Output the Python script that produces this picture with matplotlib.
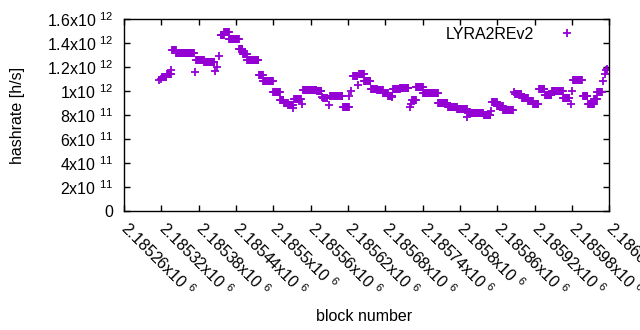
import numpy as np
import matplotlib
matplotlib.use('Agg')
import matplotlib.pyplot as plt

plt.rcParams['font.family'] = ['Liberation Sans', 'DejaVu Sans']
plt.rcParams['mathtext.fontset'] = 'custom'
plt.rcParams['mathtext.rm'] = 'Liberation Sans'
plt.rcParams['mathtext.default'] = 'regular'
plt.rcParams['font.size'] = 11.5

# hashrate runs: first block, number of blocks, hashrate (x10^11 h/s)
run_start = [2185316, 2185319, 2185321, 2185329, 2185336, 2185337, 2185344, 2185374,
             2185376, 2185389, 2185406, 2185410, 2185413, 2185415, 2185416, 2185421,
             2185429, 2185445, 2185451, 2185458, 2185477, 2185484, 2185500, 2185511,
             2185517, 2185524, 2185532, 2185533, 2185545, 2185546, 2185548, 2185570,
             2185578, 2185580, 2185589, 2185591, 2185612, 2185622, 2185625, 2185628,
             2185636, 2185638, 2185646, 2185657, 2185667, 2185677, 2185685, 2185691,
             2185693, 2185704, 2185720, 2185721, 2185723, 2185730, 2185741, 2185765,
             2185781, 2185796, 2185812, 2185813, 2185839, 2185850, 2185852, 2185860,
             2185870, 2185887, 2185889, 2185900, 2185910, 2185918, 2185927, 2185937,
             2185948, 2185966, 2185979, 2185980, 2185982, 2185998, 2186006, 2186016,
             2186021, 2186030, 2186033, 2186035, 2186037]
run_len = [1, 1, 8, 7, 1, 7, 29, 1,
           13, 17, 1, 1, 1, 1, 5, 8,
           16, 6, 7, 19, 7, 16, 11, 6,
           7, 8, 1, 10, 1, 1, 22, 8,
           1, 8, 1, 21, 10, 1, 1, 8,
           1, 8, 11, 10, 10, 8, 6, 1,
           11, 14, 1, 1, 7, 11, 24, 16,
           15, 16, 1, 25, 11, 1, 8, 10,
           16, 1, 11, 10, 8, 9, 10, 11,
           18, 11, 1, 1, 15, 8, 10, 5,
           8, 1, 1, 1, 1]
run_rate = [10.9, 11.0, 11.2, 11.4, 11.75, 13.4, 13.15, 11.6,
            12.6, 12.4, 11.7, 12.0, 12.9, 14.7, 14.7, 14.95,
            14.3, 13.5, 13.05, 12.55, 11.3, 10.8, 9.95, 9.25,
            9.0, 8.8, 8.55, 9.35, 9.3, 8.9, 10.1, 10.0,
            9.5, 9.4, 8.8, 9.6, 8.65, 9.6, 10.0, 11.25,
            10.5, 11.45, 10.85, 10.2, 10.05, 9.85, 9.55, 9.5,
            10.15, 10.25, 8.65, 8.9, 9.25, 10.3, 9.85, 9.0,
            8.7, 8.5, 7.8, 8.2, 8.0, 8.3, 9.05, 8.75,
            8.4, 9.9, 9.75, 9.4, 9.15, 8.9, 10.2, 9.65,
            10.0, 9.4, 8.9, 10.0, 10.95, 9.6, 8.9, 9.3,
            9.9, 10.8, 11.4, 11.75, 11.8]

x_ticks = np.arange(2185260, 2186041, 60)
y_ticks = np.arange(0, 1.61e12, 2e11)

blocks = np.concatenate([np.arange(s, s + n) for s, n in zip(run_start, run_len)])
rates = np.repeat(run_rate, run_len) * 1e11


def sci(v):
    if v == 0:
        return '0'
    e = int(np.floor(np.log10(v) + 1e-9))
    m = v / 10**e
    return f'{m:g}x10 $^{{{e}}}$'


fig = plt.figure(figsize=(6.4, 3.3), dpi=100)
ax = fig.add_axes([0.194, 0.3606, 0.7578, 0.5818])

ax.plot(blocks, rates, '+', color='#9400d3', ms=6, mew=1.3, label='LYRA2REv2')

ax.set_xlim(2185260, 2186040)
ax.set_ylim(0, 1.6e12)
ax.set_xticks(x_ticks)
ax.set_xticklabels([sci(v) for v in x_ticks], rotation=-45, ha='left', va='center',
                   rotation_mode='anchor')
ax.set_yticks(y_ticks)
ax.set_yticklabels([sci(v) for v in y_ticks])
ax.tick_params(direction='in', top=True, right=True, length=4, width=1)
ax.tick_params(axis='y', pad=8)
ax.tick_params(axis='x', pad=10)
for s in ax.spines.values():
    s.set_linewidth(1)

ax.set_xlabel('block number')
ax.set_ylabel('hashrate [h/s]')
ax.xaxis.set_label_coords(0.495, -0.51)
ax.yaxis.set_label_coords(-0.204, 0.5)

ax.legend(loc='upper right', bbox_to_anchor=(0.96, 0.993), borderaxespad=0,
          frameon=False, markerfirst=False, handlelength=2, handletextpad=1.1,
          numpoints=1)

fig.savefig('out.png', dpi=100)
